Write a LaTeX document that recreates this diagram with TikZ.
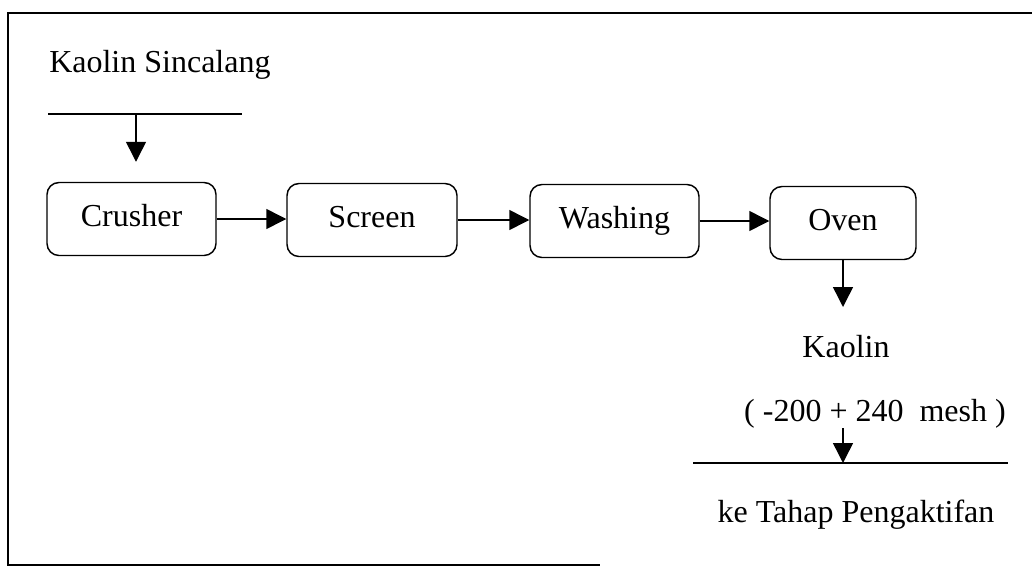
\documentclass[tikz,border=0pt]{standalone}
\usepackage{fontspec}
\setmainfont{Liberation Serif}
\usetikzlibrary{arrows.meta}
\begin{document}
\begin{tikzpicture}[x=0.75pt,y=-0.75pt,
  proc/.style={draw, line width=1.1pt, rounded corners=9pt, minimum height=54.75pt, inner sep=0pt, text height=16pt, text depth=5.5pt, font=\fontsize{24}{28}\selectfont},
  lbl/.style={font=\fontsize{24}{28}\selectfont, inner sep=0pt, anchor=base},
  arr/.style={line width=1.1pt, -{Triangle[length=15pt,width=15pt]}},
  ln/.style={line width=1.1pt}]
\useasboundingbox (0,0) rectangle (1032,568);
% frame
\coordinate (fTR) at (1032,13);
\coordinate (fTL) at (8,13);
\coordinate (fBL) at (8,565);
\coordinate (fBR) at (600,565);
\draw[line width=1pt] (fTR) -- (fTL) -- (fBL) -- (fBR);
% input
\node[lbl, anchor=base west] (src) at (49,72) {Kaolin Sincalang};
\coordinate (inL) at (48,114);
\coordinate (inR) at (242,114);
\coordinate (inA) at (136,114);
\draw[ln] (inL) -- (inR);
% process boxes
\node[proc, minimum width=126.75pt] (crusher) at (131.5,219) {Crusher};
\node[proc, minimum width=127.5pt] (screen) at (372,220) {Screen};
\node[proc, minimum width=126.75pt] (washing) at (614.5,221) {Washing};
\node[proc, minimum width=109.5pt] (oven) at (843,223) {Oven};
\draw[arr, shorten >=15pt] (inA) -- (inA |- crusher.north);
\draw[arr] (crusher.east) -- (crusher.east -| screen.west);
\draw[arr] (screen.east) -- (screen.east -| washing.west);
\draw[arr] (washing.east) -- (washing.east -| oven.west);
% output
\coordinate (kTop) at (843,307);
\draw[arr] (oven.south) -- (kTop);
\node[lbl] (kaolin) at (846,357) {Kaolin};
\node[lbl] (mesh) at (875,421) {( -200 + 240\ \ mesh )};
\coordinate (m1) at (843,428);
\coordinate (m2) at (843,463);
\draw[arr] (m1) -- (m2);
\coordinate (oL) at (693,463);
\coordinate (oR) at (1008,463);
\draw[ln] (oL) -- (oR);
\node[lbl] (next) at (856,522) {ke Tahap Pengaktifan};
\end{tikzpicture}
\end{document}
